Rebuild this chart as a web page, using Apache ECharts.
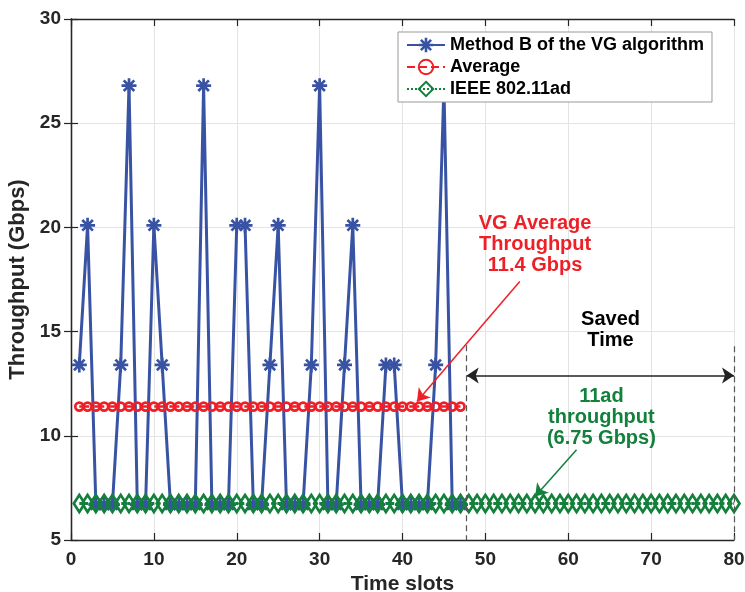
<!DOCTYPE html>
<html><head><meta charset="utf-8">
<script src="https://cdn.jsdelivr.net/npm/echarts@6/dist/echarts.min.js"></script>
<style>html,body{margin:0;padding:0;background:#fff}#c{width:745px;height:592px}</style>
</head><body><div id="c"></div>
<script>
// ---- data ----
const seriesNames = ['Method B of the VG algorithm', 'Average', 'IEEE 802.11ad'];
const methodB = [
  13.4, 20.1, 6.7, 6.7, 6.7, 13.4, 26.8, 6.7, 6.7, 20.1,
  13.4, 6.7, 6.7, 6.7, 6.7, 26.8, 6.7, 6.7, 6.7, 20.1,
  20.1, 6.7, 6.7, 13.4, 20.1, 6.7, 6.7, 6.7, 13.4, 26.8,
  6.7, 6.7, 13.4, 20.1, 6.7, 6.7, 6.7, 13.4, 13.4, 6.7,
  6.7, 6.7, 6.7, 13.4, 26.8, 6.7, 6.7
];
const average = [
  11.4, 11.4, 11.4, 11.4, 11.4, 11.4, 11.4, 11.4, 11.4, 11.4,
  11.4, 11.4, 11.4, 11.4, 11.4, 11.4, 11.4, 11.4, 11.4, 11.4,
  11.4, 11.4, 11.4, 11.4, 11.4, 11.4, 11.4, 11.4, 11.4, 11.4,
  11.4, 11.4, 11.4, 11.4, 11.4, 11.4, 11.4, 11.4, 11.4, 11.4,
  11.4, 11.4, 11.4, 11.4, 11.4, 11.4, 11.4
];
const ieee = [
  6.75, 6.75, 6.75, 6.75, 6.75, 6.75, 6.75, 6.75, 6.75, 6.75,
  6.75, 6.75, 6.75, 6.75, 6.75, 6.75, 6.75, 6.75, 6.75, 6.75,
  6.75, 6.75, 6.75, 6.75, 6.75, 6.75, 6.75, 6.75, 6.75, 6.75,
  6.75, 6.75, 6.75, 6.75, 6.75, 6.75, 6.75, 6.75, 6.75, 6.75,
  6.75, 6.75, 6.75, 6.75, 6.75, 6.75, 6.75, 6.75, 6.75, 6.75,
  6.75, 6.75, 6.75, 6.75, 6.75, 6.75, 6.75, 6.75, 6.75, 6.75,
  6.75, 6.75, 6.75, 6.75, 6.75, 6.75, 6.75, 6.75, 6.75, 6.75,
  6.75, 6.75, 6.75, 6.75, 6.75, 6.75, 6.75, 6.75, 6.75, 6.75
];
const xTicks = [0, 10, 20, 30, 40, 50, 60, 70, 80];
const yTicks = [5, 10, 15, 20, 25, 30];
const vgText = ['VG Average', 'Throughput', '11.4 Gbps'];
const savedText = ['Saved', 'Time'];
const adText = ['11ad', 'throughput', '(6.75 Gbps)'];
// annotation anchor points (data coords)
const vgArrow = [[54.15, 17.4], [41.75, 11.65]];
const adArrow = [[61.0, 9.33], [56.0, 7.09]];
const savedArrow = [[47.75, 12.89], [80, 12.89]];
const dashLeft = [[47.75, 14.35], [47.75, 5]];
const dashRight = [[80, 14.3], [80, 5]];
const vgTextPos = [56.0, 19.2];
const savedTextPos = [65.1, 15.1];
const adTextPos = [64.0, 10.9];

// ---- build ----
const toXY = arr => arr.map((v, i) => [i + 1, v]);
const BLUE = '#3953a4', RED = '#ee1f26', GREEN = '#13803c', INK = '#262626';
const FONT = '"Liberation Sans", Arial, Helvetica, sans-serif';
const asterisk = 'path://M0 8.2H20V11.8H0Z M8.2 0H11.8V20H8.2Z M4.2 1.66L18.34 15.8L15.8 18.34L1.66 4.2Z M18.34 4.2L4.2 18.34L1.66 15.8L15.8 1.66Z';

const chart = echarts.init(document.getElementById('c'), null, {renderer: 'canvas'});
const axisLine = {show: true, lineStyle: {color: INK, width: 1.3}};
const tick = {show: true, inside: true, length: 7, lineStyle: {color: INK, width: 1.2}};
const labelStyle = {color: INK, fontFamily: FONT, fontWeight: 'bold', fontSize: 19};
const nameStyleX = {color: INK, fontFamily: FONT, fontWeight: 'bold', fontSize: 21};
const nameStyleY = {color: INK, fontFamily: FONT, fontWeight: 'bold', fontSize: 22};
const txt = (lines, pos, color) => ({
  coord: pos, symbol: 'rect', symbolSize: 1, itemStyle: {color: 'rgba(0,0,0,0)'},
  label: {show: true, position: 'inside', formatter: lines.join('\n'), color: color,
    fontFamily: FONT, fontWeight: 'bold', fontSize: 20, lineHeight: 21, align: 'center', verticalAlign: 'middle'}
});
const seg = (p, color, type, syms, width) => [
  {coord: p[0], symbol: syms[0], lineStyle: {color: color, type: type, width: width}},
  {coord: p[1], symbol: syms[1]}
];

chart.setOption({
  animation: false,
  backgroundColor: '#fff',
  grid: {left: 71, right: 11, top: 19, bottom: 52, containLabel: false, outerBoundsMode: 'none'},
  legend: {
    orient: 'vertical', left: 398, top: 32,
    data: seriesNames,
    backgroundColor: '#fff', borderColor: '#999', borderWidth: 1, borderRadius: 0,
    padding: [4, 8, 4, 8], itemGap: 4, itemWidth: 38, itemHeight: 18,
    textStyle: {color: '#000', fontFamily: FONT, fontWeight: 'bold', fontSize: 18, lineHeight: 18}
  },
  xAxis: [
    {type: 'value', min: 0, max: 80, interval: 10, position: 'bottom',
      name: 'Time slots', nameLocation: 'middle', nameGap: 28, nameTextStyle: nameStyleX,
      axisLine: axisLine, axisTick: tick, axisLabel: Object.assign({margin: 10}, labelStyle),
      splitLine: {show: true, lineStyle: {color: '#e3e3e3', width: 1}}},
    {type: 'value', min: 0, max: 80, interval: 10, position: 'top',
      axisLine: axisLine, axisTick: tick, axisLabel: {show: false}, splitLine: {show: false}}
  ],
  yAxis: [
    {type: 'value', min: 5, max: 30, interval: 5, position: 'left',
      name: 'Throughput (Gbps)', nameLocation: 'middle', nameGap: 37, nameTextStyle: nameStyleY,
      axisLine: axisLine, axisTick: tick, axisLabel: Object.assign({margin: 10}, labelStyle),
      splitLine: {show: true, lineStyle: {color: '#e3e3e3', width: 1}}},
    {type: 'value', min: 5, max: 30, interval: 5, position: 'right',
      axisLine: axisLine, axisTick: tick, axisLabel: {show: false}, splitLine: {show: false}}
  ],
  series: [
    {name: seriesNames[0], type: 'line', data: toXY(methodB), clip: false,
      symbol: asterisk, symbolSize: 15, showAllSymbol: true,
      lineStyle: {color: BLUE, width: 3}, itemStyle: {color: BLUE}},
    {name: seriesNames[1], type: 'line', data: toXY(average), clip: false,
      symbol: 'circle', symbolSize: 8, showAllSymbol: true,
      lineStyle: {color: RED, width: 2.5, type: 'dashed'},
      itemStyle: {color: 'rgba(255,255,255,0)', borderColor: RED, borderWidth: 2.7}},
    {name: seriesNames[2], type: 'line', data: toXY(ieee), clip: false,
      symbol: 'diamond', symbolSize: [11, 17], showAllSymbol: true,
      lineStyle: {color: GREEN, width: 3, type: 'dotted'},
      itemStyle: {color: 'rgba(255,255,255,0)', borderColor: GREEN, borderWidth: 2.8}},
    {name: 'annotations', type: 'scatter', data: [], silent: true,
      markLine: {silent: true, animation: false, symbolSize: [12, 12], label: {show: false},
        data: [
          seg(vgArrow, RED, 'solid', ['none', 'arrow'], 1.5),
          seg(adArrow, GREEN, 'solid', ['none', 'arrow'], 1.5),
          seg(savedArrow, '#222', 'solid', ['arrow', 'arrow'], 1.5),
          seg(dashLeft, '#555', [6, 4], ['none', 'none'], 1.2),
          seg(dashRight, '#555', [6, 4], ['none', 'none'], 1.2)
        ]},
      markPoint: {silent: true, animation: false,
        data: [txt(vgText, vgTextPos, RED), txt(savedText, savedTextPos, '#000'), txt(adText, adTextPos, GREEN)]}
    }
  ]
});
</script></body></html>
